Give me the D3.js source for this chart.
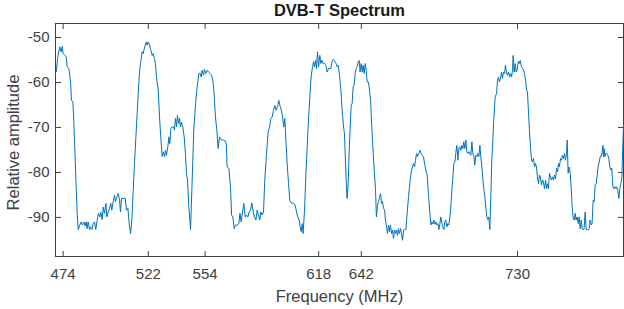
<!DOCTYPE html>
<html>
<head>
<meta charset="utf-8">
<script src="https://cdn.jsdelivr.net/npm/d3@7"></script>
<style>
  body { margin: 0; background: #fff; }
  text { font-family: "Liberation Sans", Arial, Helvetica, sans-serif; fill: #404040; }
</style>
</head>
<body>
<div id="chart"></div>
<script>
// tick values shown on the axes
const xTicks = [474, 522, 554, 618, 642, 730];
const yTicks = [-90, -80, -70, -60, -50];

const spectrum = [
  [470.4,-57.8],[471.3,-54.4],[472.4,-52.2],[473.2,-53.3],[473.8,-52.1],[474.3,-53.7],[475.3,-54.1],[476.0,-54.4],
  [476.6,-56.6],[477.5,-57.0],[478.5,-60.0],[479.0,-64.1],[479.8,-64.4],[480.3,-68.5],[481.3,-79.6],[482.2,-89.2],
  [482.8,-92.8],[483.7,-91.8],[484.5,-91.1],[485.2,-91.8],[486.0,-91.1],[486.7,-92.0],[487.3,-91.1],[487.8,-92.6],
  [488.4,-91.1],[489.2,-92.8],[489.7,-92.2],[490.5,-92.8],[491.2,-91.5],[492.0,-91.1],[492.7,-92.8],[493.5,-90.7],
  [494.2,-89.2],[495.0,-90.0],[495.5,-88.9],[496.3,-90.6],[496.9,-87.8],[497.6,-89.2],[498.4,-87.0],[498.9,-90.0],
  [499.7,-88.9],[500.4,-88.1],[501.2,-87.0],[501.7,-88.5],[502.5,-86.6],[503.2,-85.2],[503.8,-86.6],[504.6,-85.5],
  [505.3,-84.8],[506.1,-86.3],[506.6,-88.9],[507.2,-85.9],[508.1,-85.9],[509.3,-85.9],[510.0,-88.5],[510.8,-88.1],
  [511.5,-91.5],[512.3,-93.7],[513.0,-90.7],[513.8,-84.0],[514.5,-78.1],[515.3,-72.2],[516.0,-67.0],[516.8,-61.1],
  [517.5,-57.0],[517.9,-55.9],[518.8,-53.3],[519.4,-53.7],[519.8,-52.9],[520.3,-52.2],[521.1,-51.1],[521.6,-51.8],
  [522.2,-51.1],[523.0,-51.8],[523.5,-52.6],[524.5,-54.1],[525.0,-53.7],[525.8,-54.8],[526.3,-55.9],[526.9,-58.9],
  [527.5,-61.1],[527.8,-61.1],[528.6,-67.8],[529.3,-72.2],[530.1,-76.6],[530.8,-75.5],[531.4,-76.6],[532.0,-75.2],
  [532.5,-76.3],[533.3,-74.4],[533.9,-72.2],[534.4,-73.7],[535.0,-70.3],[535.7,-70.0],[536.5,-70.0],[537.0,-70.7],
  [537.6,-68.1],[538.2,-70.0],[538.7,-67.4],[539.3,-69.2],[539.9,-68.1],[540.4,-70.0],[541.0,-68.9],[541.7,-70.0],
  [542.5,-72.2],[543.2,-75.9],[543.8,-80.3],[544.4,-81.8],[545.1,-87.8],[546.1,-92.8],[547.0,-81.8],[547.9,-70.7],
  [548.9,-64.8],[549.8,-61.1],[550.8,-58.1],[551.5,-58.1],[552.1,-58.9],[552.6,-57.4],[553.4,-58.5],[553.9,-57.2],
  [554.7,-58.1],[555.5,-57.4],[556.2,-57.8],[557.0,-58.1],[557.9,-58.5],[558.6,-59.6],[559.2,-61.8],[560.1,-67.8],
  [560.9,-70.7],[561.6,-74.8],[562.4,-72.2],[563.1,-72.8],[563.9,-72.9],[564.8,-72.9],[565.6,-73.1],[566.2,-73.8],
  [566.7,-78.9],[567.7,-79.2],[568.6,-83.3],[569.2,-89.6],[569.9,-90.0],[570.7,-92.6],[571.4,-91.8],[572.4,-91.8],
  [573.3,-91.5],[573.9,-89.2],[574.6,-91.1],[575.4,-88.9],[576.1,-87.0],[576.9,-90.0],[577.6,-89.6],[578.4,-90.0],
  [579.1,-88.9],[579.9,-88.5],[580.6,-86.9],[581.4,-88.9],[582.1,-90.0],[582.9,-90.7],[583.6,-88.5],[584.4,-89.6],
  [585.1,-90.7],[585.7,-88.9],[586.4,-89.6],[587.2,-88.9],[587.9,-81.8],[588.9,-75.9],[589.8,-71.1],[590.6,-70.0],
  [591.3,-68.1],[592.1,-67.8],[592.8,-66.3],[593.6,-65.2],[594.3,-66.3],[595.1,-65.5],[595.8,-64.1],[596.6,-65.5],
  [597.3,-66.3],[597.9,-67.8],[598.6,-70.0],[599.2,-68.1],[600.0,-74.4],[600.5,-78.1],[601.3,-82.6],[602.0,-86.3],
  [602.8,-86.9],[603.5,-86.9],[604.3,-87.0],[605.0,-87.4],[605.8,-88.9],[606.5,-90.0],[607.3,-90.7],[607.8,-92.2],
  [608.4,-93.3],[609.0,-91.5],[609.5,-93.7],[610.3,-88.5],[611.0,-81.1],[611.8,-74.4],[612.5,-68.5],[613.3,-63.3],
  [614.0,-58.9],[614.8,-56.6],[615.4,-55.5],[615.9,-56.6],[616.5,-55.2],[617.0,-57.0],[617.6,-53.3],[618.2,-56.6],
  [618.9,-54.1],[619.5,-55.9],[620.1,-55.2],[620.8,-55.9],[621.6,-55.9],[622.3,-56.3],[623.1,-57.8],[623.8,-57.0],
  [624.6,-57.0],[625.1,-57.0],[625.9,-55.2],[626.6,-55.0],[627.4,-55.5],[628.1,-55.9],[628.7,-56.6],[629.3,-56.3],
  [630.0,-58.5],[630.8,-61.8],[631.5,-66.3],[632.3,-70.0],[632.8,-71.5],[633.4,-78.1],[633.9,-83.3],[634.3,-85.9],
  [634.9,-82.6],[635.4,-75.9],[636.0,-70.0],[636.6,-65.2],[637.1,-64.8],[637.7,-61.1],[638.3,-60.7],[638.8,-58.1],
  [639.4,-57.0],[640.0,-56.6],[640.5,-55.5],[641.1,-55.2],[641.6,-57.8],[642.2,-55.9],[642.8,-57.8],[643.3,-56.3],
  [643.9,-58.1],[644.5,-55.9],[645.0,-57.4],[645.6,-60.0],[646.3,-60.0],[646.9,-61.8],[647.5,-64.1],[648.2,-70.0],
  [649.0,-75.9],[649.7,-80.3],[650.3,-84.1],[650.8,-90.0],[651.4,-87.4],[652.0,-86.6],[652.5,-85.9],[653.1,-84.8],
  [653.7,-87.0],[654.2,-86.6],[654.8,-88.1],[655.4,-88.5],[655.9,-90.7],[656.5,-92.2],[657.0,-93.7],[657.6,-91.8],
  [658.2,-93.3],[658.7,-91.8],[659.3,-93.7],[659.9,-92.9],[660.4,-94.8],[661.0,-92.9],[661.6,-93.7],[662.1,-92.9],
  [662.7,-94.1],[663.2,-92.6],[663.8,-93.7],[664.4,-92.6],[664.9,-93.7],[665.5,-95.2],[666.1,-92.9],[666.6,-92.8],
  [667.4,-92.8],[668.1,-89.2],[668.9,-85.5],[669.6,-82.6],[670.4,-80.0],[671.1,-78.9],[671.7,-78.1],[672.3,-78.9],
  [672.8,-77.4],[673.4,-75.9],[673.9,-76.6],[674.7,-75.9],[675.4,-75.2],[676.0,-75.9],[676.6,-76.3],[677.3,-76.6],
  [678.1,-78.5],[678.6,-79.6],[679.4,-80.7],[680.1,-84.8],[680.9,-89.2],[681.5,-91.8],[682.0,-91.1],[682.6,-91.6],
  [683.1,-90.7],[683.7,-91.6],[684.3,-91.1],[684.8,-91.8],[685.4,-91.5],[686.0,-92.8],[686.5,-91.6],[687.1,-90.0],
  [687.7,-91.5],[688.2,-92.2],[688.8,-92.8],[689.3,-91.1],[689.9,-90.7],[690.5,-92.2],[691.0,-91.5],[691.6,-91.8],
  [692.2,-90.0],[692.7,-88.1],[693.3,-84.1],[693.9,-81.1],[694.4,-78.1],[695.0,-77.8],[695.5,-75.9],[696.1,-74.1],
  [696.7,-77.4],[697.2,-74.8],[697.8,-74.4],[698.4,-75.2],[698.9,-74.1],[699.5,-74.8],[700.0,-73.3],[700.6,-74.8],
  [701.2,-72.9],[701.7,-75.5],[702.3,-75.9],[702.9,-75.5],[703.4,-75.9],[704.0,-76.3],[704.6,-73.3],[705.1,-75.9],
  [705.7,-76.6],[706.2,-78.5],[706.8,-76.3],[707.4,-76.6],[707.9,-75.9],[708.5,-76.6],[709.1,-74.1],[709.6,-76.6],
  [710.2,-78.9],[710.8,-81.8],[711.3,-83.7],[711.9,-85.5],[712.4,-87.8],[713.0,-90.0],[713.6,-90.6],[714.1,-90.0],
  [714.7,-92.8],[715.3,-84.8],[715.8,-77.4],[716.4,-72.9],[716.9,-68.5],[717.7,-63.3],[718.5,-62.6],[719.0,-59.6],
  [719.6,-58.9],[720.1,-60.0],[720.7,-59.2],[721.3,-57.8],[721.8,-59.2],[722.4,-57.8],[723.0,-58.1],[723.5,-56.3],
  [724.1,-58.1],[724.6,-58.5],[725.2,-57.8],[725.8,-58.9],[726.3,-58.1],[726.9,-58.9],[727.5,-57.4],[727.8,-54.1],
  [728.4,-57.8],[729.0,-55.9],[729.5,-57.8],[730.1,-57.4],[730.7,-55.5],[731.2,-55.9],[731.8,-55.2],[732.5,-56.6],
  [733.1,-57.0],[733.7,-57.4],[734.2,-58.1],[734.8,-59.6],[735.4,-61.8],[735.9,-62.2],[736.5,-67.0],[737.0,-70.7],
  [737.6,-74.4],[738.2,-77.4],[738.7,-77.8],[739.3,-77.0],[739.9,-78.9],[740.4,-78.1],[741.0,-78.9],[741.5,-81.1],
  [742.1,-82.6],[742.7,-80.7],[743.2,-81.1],[743.8,-82.9],[744.4,-81.8],[744.9,-82.2],[745.5,-83.7],[746.1,-81.8],
  [746.6,-83.7],[747.2,-82.6],[747.7,-83.7],[748.3,-80.3],[748.9,-81.1],[749.4,-81.8],[750.0,-81.1],[750.6,-81.8],
  [751.1,-80.7],[751.7,-81.5],[752.3,-79.2],[752.8,-80.0],[753.4,-78.1],[753.9,-78.9],[754.5,-77.0],[755.1,-77.4],
  [755.6,-76.3],[756.2,-77.0],[756.8,-75.9],[757.3,-77.4],[757.9,-75.9],[758.3,-72.9],[758.8,-80.3],[759.4,-78.9],
  [760.0,-80.3],[760.5,-83.3],[761.1,-87.8],[761.6,-90.0],[762.2,-90.7],[762.8,-89.2],[763.3,-90.7],[763.9,-90.0],
  [764.5,-91.5],[765.0,-90.0],[765.6,-92.6],[766.2,-90.7],[766.7,-92.6],[767.3,-92.9],[767.8,-92.6],[768.4,-88.9],
  [769.0,-92.9],[769.5,-92.8],[770.1,-92.9],[770.7,-92.6],[771.2,-90.7],[771.8,-91.8],[772.3,-91.5],[772.9,-86.3],
  [773.5,-86.6],[774.0,-82.9],[774.6,-82.6],[775.2,-80.7],[775.7,-78.9],[776.3,-77.8],[776.9,-76.6],[777.4,-76.6],
  [778.0,-75.5],[778.4,-74.1],[778.7,-76.6],[779.1,-74.8],[779.5,-76.6],[780.0,-75.9],[780.6,-75.9],[781.2,-76.3],
  [781.7,-77.0],[782.3,-78.9],[782.9,-79.6],[783.4,-79.2],[784.0,-83.3],[784.6,-83.7],[785.1,-83.3],[785.7,-83.7],
  [786.2,-83.3],[786.8,-84.1],[787.4,-85.9],[787.9,-83.7],[788.5,-82.6],[789.1,-81.1],[789.6,-74.4],[790.0,-69.5]
];

const W = 624, H = 309;
const margin = { top: 23.5, right: 0.5, bottom: 52.5, left: 55.5 };
const width = W - margin.left - margin.right;
const height = H - margin.top - margin.bottom;
const axisColor = "#404040";

const svg = d3.select("#chart")
  .append("svg")
  .attr("width", W)
  .attr("height", H)
  .append("g")
  .attr("transform", `translate(${margin.left},${margin.top})`);

const x = d3.scaleLinear().domain([470, 790]).range([0, width]);
const y = d3.scaleLinear().domain([-98.8, -47]).range([height, 0]);

// bottom axis, ticks pointing inward
svg.append("g")
  .attr("transform", `translate(0,${height})`)
  .call(d3.axisBottom(x).tickValues(xTicks).tickSizeInner(-5.5).tickSizeOuter(0).tickPadding(11.5).tickFormat(d => String(d)))
  .attr("font-size", 15)
  .attr("color", axisColor)
  .call(g => g.select(".domain").remove());

// left axis
svg.append("g")
  .call(d3.axisLeft(y).tickValues(yTicks).tickSizeInner(-5.5).tickSizeOuter(0).tickPadding(6).tickFormat(d => String(d)))
  .attr("font-size", 15)
  .attr("color", axisColor)
  .call(g => g.select(".domain").remove());

// mirrored ticks on top and right (box on)
svg.append("g")
  .call(d3.axisTop(x).tickValues(xTicks).tickSizeInner(-5.5).tickSizeOuter(0).tickFormat(""))
  .attr("color", axisColor)
  .call(g => g.select(".domain").remove());

svg.append("g")
  .attr("transform", `translate(${width},0)`)
  .call(d3.axisRight(y).tickValues(yTicks).tickSizeInner(-5.5).tickSizeOuter(0).tickFormat(""))
  .attr("color", axisColor)
  .call(g => g.select(".domain").remove());

// box
svg.append("rect")
  .attr("width", width)
  .attr("height", height)
  .attr("fill", "none")
  .attr("stroke", axisColor)
  .attr("stroke-width", 1)
  .attr("shape-rendering", "crispEdges");

// spectrum line
const line = d3.line()
  .x(d => x(d[0]))
  .y(d => y(d[1]));

svg.append("path")
  .datum(spectrum)
  .attr("d", line)
  .attr("fill", "none")
  .attr("stroke", "#0072BD")
  .attr("stroke-width", 1)
  .attr("stroke-linejoin", "round");

// title and axis labels
svg.append("text")
  .attr("x", width / 2)
  .attr("y", 15.7 - margin.top)
  .attr("text-anchor", "middle")
  .style("font-size", "16.5px")
  .style("font-weight", "bold")
  .style("fill", "#1a1a1a")
  .text("DVB-T Spectrum");

svg.append("text")
  .attr("x", width / 2)
  .attr("y", 302 - margin.top)
  .attr("text-anchor", "middle")
  .style("font-size", "16.5px")
  .text("Frequency (MHz)");

svg.append("text")
  .attr("transform", `translate(${18.5 - margin.left},${142.5 - margin.top}) rotate(-90)`)
  .attr("text-anchor", "middle")
  .style("font-size", "16.5px")
  .text("Relative amplitude");
</script>
</body>
</html>
